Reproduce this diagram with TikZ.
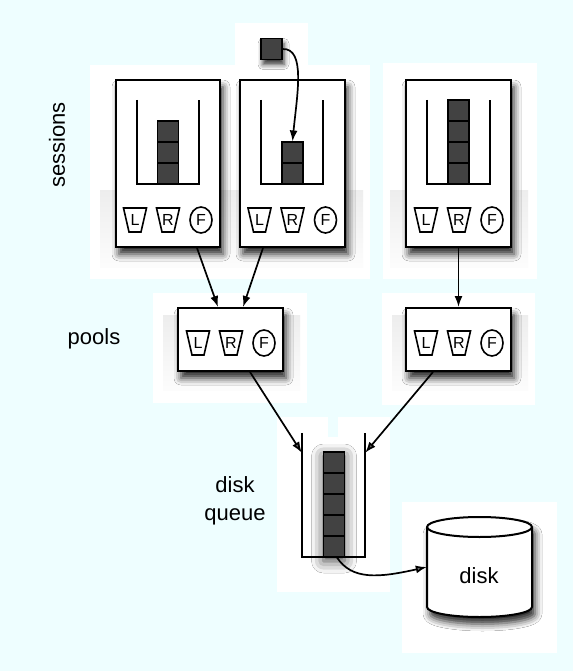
\documentclass[tikz,border=0pt]{standalone}
\usepackage{fontspec}
\setmainfont{Liberation Sans}
\usetikzlibrary{shapes.geometric,arrows.meta,calc,shadows.blur}
\definecolor{bgc}{RGB}{238,254,255}
\definecolor{blk}{RGB}{66,66,66}
\tikzset{
 box/.style={draw, line width=2pt, fill=white, rectangle, inner sep=0pt,
   blur shadow={shadow xshift=3pt, shadow yshift=-7pt, shadow blur radius=7pt, shadow opacity=85}},
 blockbox/.style={draw, line width=1.1pt, fill=blk, minimum width=21pt, minimum height=21pt, inner sep=0pt},
 cont/.style={line width=1.9pt},
 arr/.style={line width=1.7pt, -{Latex[length=11pt,width=8pt]}},
 lbl/.style={font=\fontsize{22}{28}\selectfont, inner sep=0pt},
 letr/.style={font=\fontsize{16}{18}\selectfont, inner sep=0pt},
 shp/.style={line width=1.6pt},
 band/.style={top color=black!7, bottom color=black!1, draw=none},
 ghost/.style={inner sep=0pt, draw=none},
}
\newcommand\lrfset[3]{%
 \node[letr] (#1L) at (#2-33,#3) {L};
 \node[letr] (#1R) at (#2,#3) {R};
 \node[letr, ellipse, draw, line width=1.6pt, minimum width=22pt, minimum height=26pt] (#1F) at (#2+33,#3) {F};
 \draw[shp] ($(#1L)+(-11.5,-12)$) -- ($(#1L)+(11.5,-12)$) -- ($(#1L)+(6,12)$) -- ($(#1L)+(-6,12)$) -- cycle;
 \draw[shp] ($(#1R)+(-11.5,-12)$) -- ($(#1R)+(11.5,-12)$) -- ($(#1R)+(6,12)$) -- ($(#1R)+(-6,12)$) -- cycle;
}
\begin{document}
\begin{tikzpicture}[x=1pt,y=-1pt]
\useasboundingbox (0,0) rectangle (573,671);
\fill[bgc] (0,0) rectangle (573,671);
% white patches
\fill[white] (235,23) rectangle (308,65);
\fill[white] (90,65) rectangle (370,279);
\fill[white] (383,63) rectangle (537,279);
\fill[white] (153,293) rectangle (307,403);
\fill[white] (382,293) rectangle (535,405);
\fill[white] (277,417) rectangle (390,592);
\fill[bgc] (328,417) rectangle (338,437);
\fill[white] (402,502) rectangle (557,653);
% bands
\shade[band] (100,190) rectangle (363,267);
\shade[band] (390,190) rectangle (528,267);
\shade[band] (163,315) rectangle (300,390);
\shade[band] (392,315) rectangle (528,390);

% labels
\node[lbl, rotate=90] (lsess) at (57,145) {sessions};
\node[lbl] (lpools) at (94,339) {pools};
\node[lbl, align=center] (lqueue) at (235,501) {disk\\queue};

% session boxes
\node[box, minimum width=104pt, minimum height=167pt] (s1) at (168,163.5) {};
\node[box, minimum width=105pt, minimum height=167pt] (s2) at (292.5,163.5) {};
\node[box, minimum width=105pt, minimum height=167pt] (s3) at (458.5,163.5) {};

% session queues
\draw[cont] (137,100) -- (137,184) -- (199,184) -- (199,100);
\draw[cont] (261,100) -- (261,184) -- (323,184) -- (323,100);
\draw[cont] (427,100) -- (427,184) -- (490,184) -- (490,100);

\node[blockbox] (a1) at (168,173.5) {};
\node[blockbox] (a2) at (168,152.5) {};
\node[blockbox] (a3) at (168,131.5) {};
\node[blockbox] (b1) at (292.5,173.5) {};
\node[blockbox] (b2) at (292.5,152.5) {};
\node[blockbox] (c1) at (458.5,173.5) {};
\node[blockbox] (c2) at (458.5,152.5) {};
\node[blockbox] (c3) at (458.5,131.5) {};
\node[blockbox] (c4) at (458.5,110.5) {};

\lrfset{sa}{168}{220}
\lrfset{sb}{292.5}{220}
\lrfset{sc}{459}{220}

% new request
\node[blockbox, blur shadow={shadow xshift=2pt, shadow yshift=-5pt, shadow blur radius=5pt, shadow opacity=80}] (new) at (271.5,49) {};
\draw[arr] (new.east) .. controls (306,48) and (297,95) .. (b2.north);

% pools
\node[box, minimum width=105pt, minimum height=63pt] (p1) at (230.5,339.5) {};
\node[box, minimum width=105pt, minimum height=63pt] (p2) at (458.5,339.5) {};
\lrfset{pa}{231}{343}
\lrfset{pb}{459}{343}

\draw[arr] ([xshift=29pt]s1.south) -- ([xshift=-12.5pt]p1.north);
\draw[arr] ([xshift=-29.5pt]s2.south) -- ([xshift=12.5pt]p1.north);
\draw[arr] (s3.south) -- (p2.north);

% disk queue
\node[ghost, minimum width=63pt, minimum height=124pt] (dq) at (333.5,495) {};
\path[fill=blk, blur shadow={shadow xshift=0pt, shadow yshift=-4pt, shadow blur radius=12pt, shadow opacity=75}] (323.5,452) rectangle (344.5,557);
\draw[cont] (dq.north west) -- (dq.south west) -- (dq.south east) -- (dq.north east);
\node[blockbox] (q1) at (334,462.5) {};
\node[blockbox] (q2) at (334,483.5) {};
\node[blockbox] (q3) at (334,504.5) {};
\node[blockbox] (q4) at (334,525.5) {};
\node[blockbox] (q5) at (334,546.5) {};

\draw[arr] ([xshift=19.5pt]p1.south) -- ([yshift=-20pt]dq.north west);
\draw[arr] ([xshift=-25.5pt]p2.south) -- ([yshift=-20pt]dq.north east);

% disk
\path[fill=white, draw, line width=2pt, blur shadow={shadow xshift=3pt, shadow yshift=-7pt, shadow blur radius=7pt, shadow opacity=85}]
  (427,527) -- (427,607) arc[start angle=180, end angle=0, x radius=52.5, y radius=10]
  -- (532,527) arc[start angle=0, end angle=-180, x radius=52.5, y radius=10] -- cycle;
\draw[line width=2pt] (427,527) arc[start angle=180, end angle=0, x radius=52.5, y radius=10];
\node[ghost, minimum width=105pt, minimum height=100pt] (dbody) at (479.5,567) {};
\node[lbl] (disk) at (479,576) {disk};

\draw[arr] ([xshift=3pt]q5.south) .. controls (352,580) and (378,578) .. (dbody.west);
\end{tikzpicture}
\end{document}
